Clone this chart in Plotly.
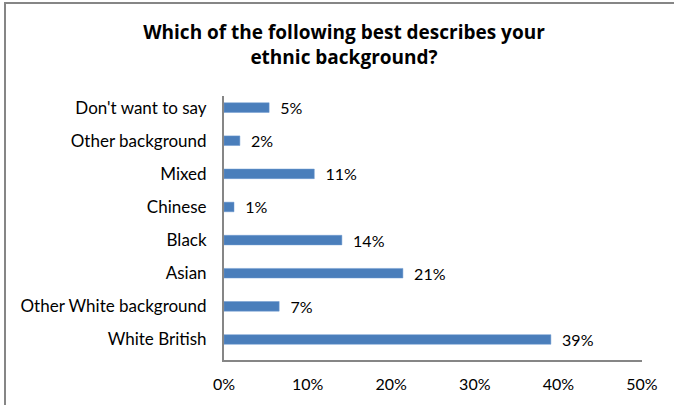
import plotly.graph_objects as go

categories = ["White British", "Other White background", "Asian", "Black",
              "Chinese", "Mixed", "Other background", "Don't want to say"]
values = [39.1, 6.6, 21.4, 14.1, 1.2, 10.8, 1.9, 5.4]
tick_vals = [0, 10, 20, 30, 40, 50]
tick_text = ["0%", "10%", "20%", "30%", "40%", "50%"]
title_text = "Which of the following best describes your<br>ethnic background?"

W, H = 674, 405
L, R, T, B = 224, 642, 96, 360
pw, ph = R - L, B - T

def px(x):
    return (x - L) / pw

def py(y):
    return (B - y) / ph

FONT = "Lato, Liberation Sans, sans-serif"
TFONT = "Open Sans, Liberation Sans, sans-serif"

fig = go.Figure(go.Bar(
    x=values, y=categories, orientation="h",
    marker=dict(color="#4A7EBB", line=dict(color="#6F9AD0", width=0.5)),
    width=0.29,
    texttemplate="  %{x:.0f}%", textposition="outside", constraintext="none",
    textfont=dict(family=FONT, size=16, color="#000000"),
    cliponaxis=False,
))

fig.update_layout(
    width=W, height=H,
    margin=dict(l=L, r=W - R, t=T, b=H - B, autoexpand=False),
    paper_bgcolor="white", plot_bgcolor="white",
    showlegend=False,
    title=dict(text=title_text, xref="container", x=344 / W, xanchor="center",
               yref="container", y=1 - 39 / H, yanchor="middle",
               font=dict(family=TFONT, size=19, color="#000000", weight="bold")),
    xaxis=dict(range=[0, 50], tickvals=tick_vals, ticktext=tick_text, automargin=False,
               showgrid=False, zeroline=False, showline=True, linecolor="#868686", linewidth=2,
               ticks="", ticklabelstandoff=9,
               tickfont=dict(family=FONT, size=16, color="#000000"), fixedrange=True),
    yaxis=dict(categoryorder="array", categoryarray=categories, automargin=False,
               range=[-0.62, 7.35],
               showgrid=False, zeroline=False, showline=True, linecolor="#868686", linewidth=2,
               ticks="", ticklabelstandoff=12,
               tickfont=dict(family=FONT, size=17, color="#000000"), fixedrange=True),
    shapes=[dict(type="rect", xref="paper", yref="paper",
                 x0=px(5), x1=px(690), y0=py(420), y1=py(3),
                 line=dict(color="#868686", width=2), fillcolor="rgba(0,0,0,0)", layer="below")],
)

fig.write_html("out.html", config={"displayModeBar": False},
               post_script="document.body.style.margin='0';")
